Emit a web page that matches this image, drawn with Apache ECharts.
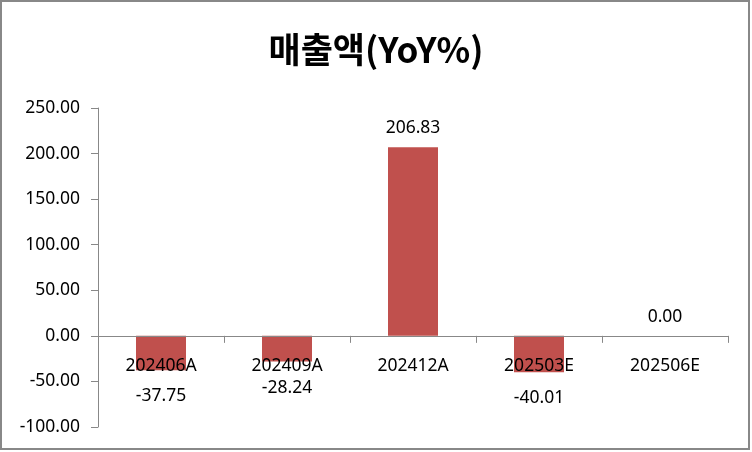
<!DOCTYPE html>
<html>
<head>
<meta charset="utf-8">
<script src="https://cdn.jsdelivr.net/npm/echarts@6/dist/echarts.min.js"></script>
<style>
html,body{margin:0;padding:0;background:#fff;}
#c{width:752px;height:452px;}
</style>
</head>
<body>
<div id="c"></div>
<script>
const titleText = '매출액(YoY%)';
const categories = ['202406A', '202409A', '202412A', '202503E', '202506E'];
const values = [-37.75, -28.24, 206.83, -40.01, 0.00];
const yMin = -100, yMax = 250, yStep = 50;

const chart = echarts.init(document.getElementById('c'), null, {renderer: 'canvas'});
const labelFont = 'Noto Sans';
const seriesData = values.map(v => ({
  value: v,
  label: {position: v < 0 ? 'bottom' : 'top', distance: v < 0 ? 17 : 10}
}));

chart.setOption({
  animation: false,
  backgroundColor: '#fff',
  title: {
    text: titleText,
    left: 'center',
    top: 27,
    textStyle: {fontFamily: 'Noto Sans CJK KR', fontWeight: 'bold', fontSize: 35, color: '#000'}
  },
  graphic: [{
    type: 'rect',
    shape: {x: 1, y: 1, width: 748, height: 448},
    style: {fill: 'none', stroke: '#888', lineWidth: 2},
    silent: true, z: 100
  }],
  grid: {left: 98, right: 24, top: 108, bottom: 25, containLabel: false, outerBoundsMode: 'none'},
  xAxis: {
    type: 'category',
    data: categories,
    z: 10,
    axisLine: {onZero: true, lineStyle: {color: '#888', width: 1}},
    axisTick: {show: true, length: 7, inside: false, lineStyle: {color: '#888'}},
    axisLabel: {color: '#000', fontFamily: labelFont, fontSize: 17.5, margin: -70, interval: 0}
  },
  yAxis: {
    type: 'value',
    min: yMin, max: yMax, interval: yStep,
    axisLine: {show: true, lineStyle: {color: '#888', width: 1}},
    axisTick: {show: true, length: 7, lineStyle: {color: '#888'}},
    splitLine: {show: false},
    axisLabel: {color: '#000', fontFamily: labelFont, fontSize: 17.5, margin: 18,
      formatter: v => v.toFixed(2)}
  },
  series: [{
    type: 'bar',
    data: seriesData,
    barWidth: 50,
    itemStyle: {color: '#C0504D'},
    label: {show: true, color: '#000', fontFamily: labelFont, fontSize: 17.5,
      formatter: p => Number(p.value).toFixed(2)}
  }]
});
</script>
</body>
</html>
